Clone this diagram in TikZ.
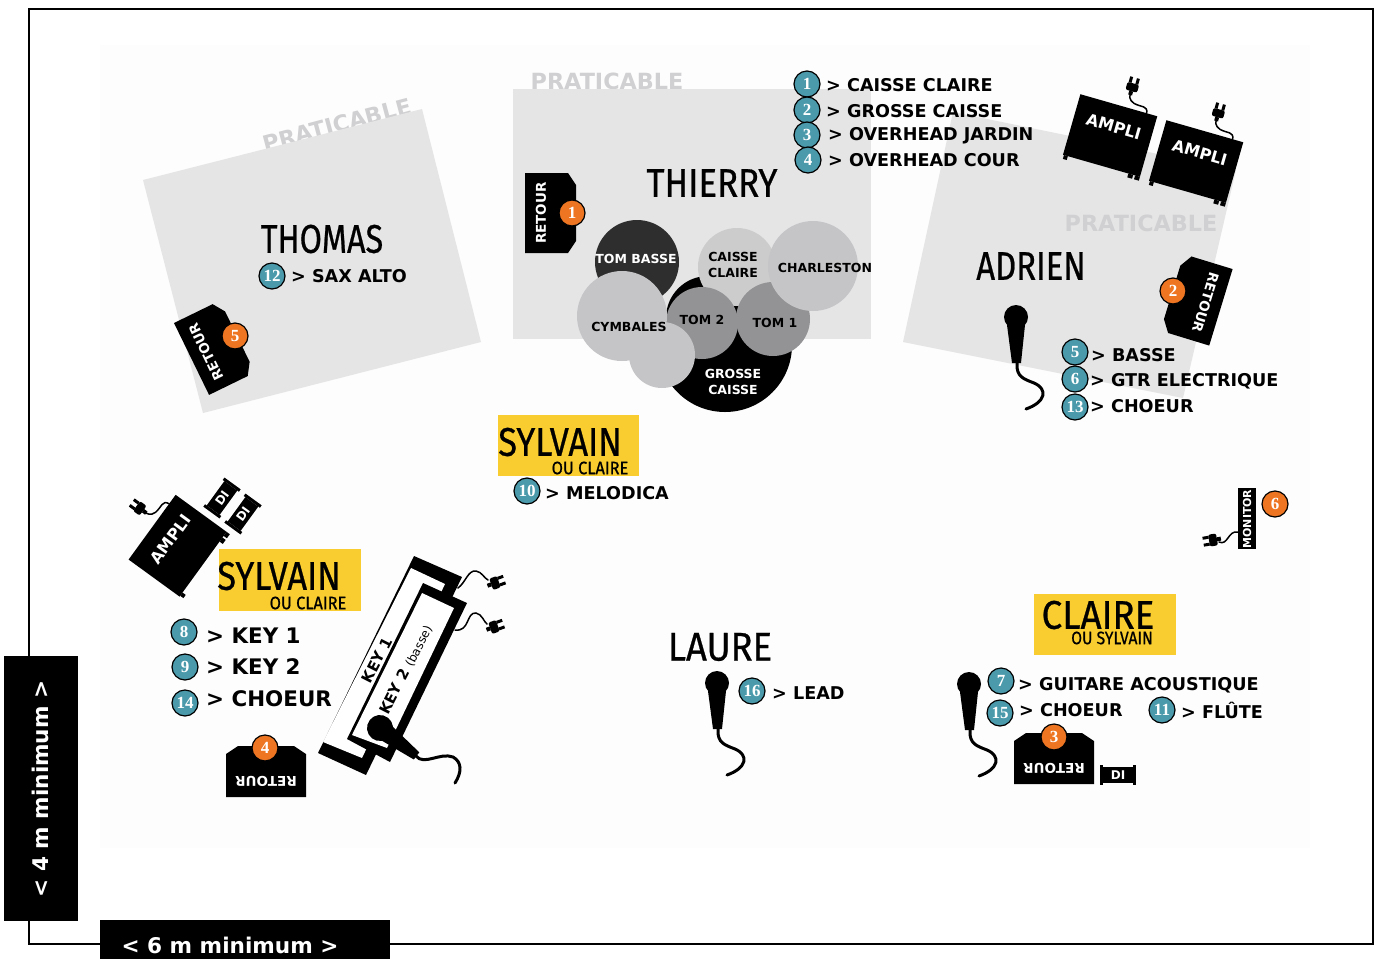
\documentclass[tikz,border=0pt]{standalone}
\usepackage{fontspec}
\setmainfont{DejaVu Sans}
\newfontfamily\handfont[FakeBold=0.7]{Fira Sans}
\newfontfamily\numfont{Liberation Serif}
\definecolor{tealnum}{HTML}{4A9AAB}
\definecolor{orangenum}{HTML}{EE7623}
\definecolor{plategray}{HTML}{E5E5E6}
\definecolor{pratgray}{HTML}{D0D0D2}
\definecolor{bandyellow}{HTML}{F9CD2F}
\definecolor{cymbalgray}{HTML}{C5C5C8}
\definecolor{tomgray}{HTML}{939396}
\tikzset{
    numteal/.style={circle, draw=black, line width=1.2pt, fill=tealnum, text=white, minimum size=26pt, inner sep=0pt, font=\numfont\bfseries\fontsize{17}{17}\selectfont},
    numorange/.style={numteal, fill=orangenum},
    item/.style={anchor=west, inner sep=0pt, xshift=-1pt, yshift=-1pt, font=\bfseries\fontsize{17.6}{17.6}\selectfont},
    bigitem/.style={anchor=west, inner sep=0pt, font=\bfseries\fontsize{21.4}{21.4}\selectfont},
    prat/.style={text=pratgray, inner sep=0pt, font=\bfseries\fontsize{22.3}{22.3}\selectfont},
    drum/.style={circle, inner sep=0pt},
    drumtext/.style={inner sep=0pt, align=center, font=\bfseries\fontsize{12.5}{15.5}\selectfont},
    hand/.style={inner sep=0pt, font=\handfont\fontsize{40}{40}\selectfont},
    handsub/.style={inner sep=0pt, font=\handfont\fontsize{18}{18}\selectfont},
    gear/.style={text=white, inner sep=0pt, transform shape, font=\bfseries\fontsize{13.5}{13.5}\selectfont},
    cable/.style={line width=1.5pt, line cap=round},
    micwire/.style={line width=3pt, line cap=round}
}
% power plug, prongs pointing up
\newcommand{\plugshape}[3]{
    \begin{scope}[shift={(#1,#2)}, rotate=#3]
        \fill[rounded corners=2pt] (-6,-4) rectangle (6,4);
        \fill (-2,4) rectangle (2,8);
        \fill (-5,-10) rectangle (-2,-4);
        \fill (2,-10) rectangle (5,-4);
    \end{scope}
}
\begin{document}
\begin{tikzpicture}[x=1pt, y=-1pt]
    \useasboundingbox (0,0) rectangle (1377,959);

    % Stage
    \fill[white] (0,0) rectangle (1377,959);
    \fill[black!0.8] (100,45) rectangle (1310,848);
    \draw[line width=1.8pt] (29,9) rectangle (1373,944);

    % Risers
    \node[prat, rotate=15] (pratthomas) at (337,125) {PRATICABLE};
    \node[prat] (pratthierry) at (607,81) {PRATICABLE};
    \fill[plategray] (143,180) -- (422,109) -- (481,342) -- (203,413) -- cycle;
    \fill[plategray] (513,89) rectangle (871,339);
    \fill[plategray] (953,112) -- (1236,170) -- (1183,398) -- (903,342) -- cycle;
    \node[prat] (pratadrien) at (1141,223) {PRATICABLE};

    % Drum kit
    \node[drum, fill=black!82!white, minimum size=84pt] (tombasse) at (637,262) {};
    \node[drum, fill=black, minimum size=84pt] (grosseback) at (708,318) {};
    \node[drum, fill=black, minimum size=134pt] (grosse) at (725,345) {};
    \node[drum, fill=black!20, minimum size=78pt] (caisse) at (737,267) {};
    \node[drum, fill=tomgray, minimum size=72pt] (tomtwo) at (702,323) {};
    \node[drum, fill=tomgray, minimum size=74pt] (tomone) at (773,319) {};
    \node[drum, fill=cymbalgray, minimum size=90pt] (cymbales) at (622,316) {};
    \node[drum, fill=cymbalgray, minimum size=66pt] (cymbsmall) at (662,355) {};
    \node[drum, fill=cymbalgray, minimum size=90pt] (charleston) at (813,266) {};
    \node[drumtext, text=white] (ltombasse) at (636,259) {TOM BASSE};
    \node[drumtext] (lcaisse) at (733,265) {CAISSE\\CLAIRE};
    \node[drumtext] (lcharleston) at (825,268) {CHARLESTON};
    \node[drumtext] (lcymbales) at (629,327) {CYMBALES};
    \node[drumtext] (ltomtwo) at (702,320) {TOM 2};
    \node[drumtext] (ltomone) at (775,323) {TOM 1};
    \node[drumtext, text=white] (lgrosse) at (733,382) {GROSSE\\CAISSE};

    % Yellow name tags
    \fill[bandyellow] (498,415) rectangle (639,476);
    \fill[bandyellow] (219,549) rectangle (361,611);
    \fill[bandyellow] (1034,594) rectangle (1176,655);

    % Names
    \node[hand, xscale=.87] (thierry) at (712,183) {THIERRY};
    \node[hand, xscale=.81] (thomas) at (322,239) {THOMAS};
    \node[hand, xscale=.82] (adrien) at (1031,266) {ADRIEN};
    \node[hand, xscale=.91] (laure) at (720,647) {LAURE};
    \node[hand, xscale=.86] (sylvaina) at (560,442) {SYLVAIN};
    \node[handsub, xscale=.91] (sylvainasub) at (590,468) {OU CLAIRE};
    \node[hand, xscale=.86] (sylvainb) at (279,576) {SYLVAIN};
    \node[handsub, xscale=.91] (sylvainbsub) at (308,603) {OU CLAIRE};
    \node[hand, xscale=.92] (claire) at (1098,615) {CLAIRE};
    \node[handsub, xscale=.87] (clairesub) at (1112,638) {OU SYLVAIN};

    % Monitors
    \foreach \x/\y/\a/\n in {550/213/0/a, 1197/300/163/b, 214/348/26/c, 266/772/90/d, 1054/759/90/e} {
        \begin{scope}[shift={(\x,\y)}, rotate=\a]
            \fill (-25,-40) -- (18,-40) -- (26,-28) -- (26,28) -- (18,40) -- (-25,40) -- cycle;
            \node[gear, rotate=90] (retour\n) at (-9,0) {RETOUR};
        \end{scope}
    }

    % Amps
    \foreach \x/\y/\a/\n in {1110/136/-16/a, 1196/162/-16/b, 178/546/54/c} {
        \begin{scope}[shift={(\x,\y)}, rotate=\a]
            \fill (-40,-32) rectangle (40,31);
            \fill (-39,31) rectangle (-35,35);
            \fill (28,31) rectangle (33,35);
            \fill (35,31) rectangle (40,35);
            \node[gear, font=\bfseries\fontsize{16}{16}\selectfont] (ampli\n) at (1,-10) {AMPLI};
            \draw[cable] (29,-32) .. controls (28,-40) and (22,-36) .. (14,-38) .. controls (8,-40) and (8,-44) .. (8,-46);
            \plugshape{8}{-53}{0}
        \end{scope}
    }

    % DI boxes
    \foreach \x/\y/\a/\n in {222/498/54/a, 243/514/54/b, 1118/775/0/c} {
        \begin{scope}[shift={(\x,\y)}, rotate=\a]
            \fill (-15,-8) rectangle (15,8);
            \fill (-18,-10) rectangle (-15,10);
            \fill (15,-10) rectangle (18,10);
            \node[gear, font=\bfseries\fontsize{12}{12}\selectfont] (di\n) at (0,0) {DI};
        \end{scope}
    }

    % Side monitor
    \fill (1238,488) rectangle (1256,549);
    \node[gear, rotate=90, font=\bfseries\fontsize{11}{11}\selectfont] (monitor) at (1247,519) {MONITOR};
    \draw[cable] (1238,532) .. controls (1228,530) and (1228,546) .. (1219,542);
    \plugshape{1213}{540}{100}

    % Keyboards
    \fill (414,556) -- (462,577) -- (366,775) -- (318,753) -- cycle;
    \fill[white] (411,568) -- (445,584) -- (362,758) -- (323,742) -- cycle;
    \fill (423,583) -- (467,603) -- (390,762) -- (347,739) -- cycle;
    \fill[white] (422,593) -- (454,608) -- (387,748) -- (352,735) -- cycle;
    \node[gear, rotate=63, text=black, font=\bfseries\fontsize{15}{15}\selectfont] (keyone) at (377,660) {KEY 1};
    \node[gear, rotate=63, text=black, font=\bfseries\fontsize{15}{15}\selectfont] (keytwo) at (406,670) {KEY 2 {\normalfont\fontsize{12}{12}\selectfont (basse)}};
    \draw[cable] (458,588) .. controls (466,582) and (468,570) .. (476,571) .. controls (482,572) and (484,578) .. (488,580);
    \plugshape{495}{583}{-70}
    \draw[cable] (455,630) .. controls (470,632) and (466,612) .. (476,613) .. controls (482,614) and (484,622) .. (487,624);
    \plugshape{494}{627}{-70}

    % Mics
    \foreach \x/\y in {1016/317, 717/683, 969/684} {
        \begin{scope}[shift={(\x,\y)}]
            \fill (0,0) circle (12pt);
            \fill (-9,8) -- (9,8) -- (5,46) -- (-4,46) -- cycle;
            \draw[micwire] (1,46) .. controls (0,60) and (8,62) .. (18,66) .. controls (32,72) and (30,85) .. (10,92);
        \end{scope}
    }
    \begin{scope}[shift={(380,728)}, rotate=52]
        \fill (0,0) circle (13pt);
        \fill (-9,8) -- (9,8) -- (5,46) -- (-4,46) -- cycle;
    \end{scope}
    \draw[micwire] (416,756) .. controls (424,766) and (440,752) .. (453,757) .. controls (462,762) and (462,772) .. (455,783);

    % Orange numbers
    \foreach \x/\y/\n in {572/213/1, 1173/291/2, 1054/737/3, 265/748/4, 235/336/5, 1275/504/6} {
        \node[numorange] (mon\n) at (\x,\y) {\n};
    }

    % Teal numbers
    \foreach \x/\y/\n in {807/84/1, 807/110/2, 807/135/3, 808/160/4, 1075/352/5, 1075/379/6, 1001/681/7, 184/632/8, 185/667/9, 527/491/10, 1162/710/11, 272/276/12, 1075/407/13, 185/703/14, 1000/713/15, 752/691/16} {
        \node[numteal] (in\n) at (\x,\y) {\n};
    }

    % Input list
    \node[item] (caisseclaire) at (827,84) {> CAISSE CLAIRE};
    \node[item] (grossecaisse) at (827,110) {> GROSSE CAISSE};
    \node[item] (overjardin) at (829,135) {> OVERHEAD JARDIN};
    \node[item] (overcour) at (829,159) {> OVERHEAD COUR};
    \node[item] (sax) at (292,275) {> SAX ALTO};
    \node[item] (basse) at (1092,354) {> BASSE};
    \node[item] (gtr) at (1091,380) {> GTR ELECTRIQUE};
    \node[item] (choeura) at (1091,405) {> CHOEUR};
    \node[item] (melodica) at (546,492) {> MELODICA};
    \node[bigitem] (keya) at (206,636) {> KEY 1};
    \node[bigitem] (keyb) at (206,667) {> KEY 2};
    \node[bigitem] (choeurb) at (206,699) {> CHOEUR};
    \node[item] (lead) at (773,692) {> LEAD};
    \node[item] (guitare) at (1019,684) {> GUITARE ACOUSTIQUE};
    \node[item] (choeurc) at (1020,709) {> CHOEUR};
    \node[item] (flute) at (1182,709) {> FLÛTE};

    % Minimum sizes
    \fill (4,656) rectangle (78,921);
    \fill (100,920) rectangle (390,959);
    \node[gear, rotate=90, font=\bfseries\fontsize{21.6}{21.6}\selectfont] (fourm) at (40,789) {< 4 m minimum >};
    \node[gear, font=\bfseries\fontsize{21.6}{21.6}\selectfont] (sixm) at (230,945) {< 6 m minimum >};
\end{tikzpicture}
\end{document}
